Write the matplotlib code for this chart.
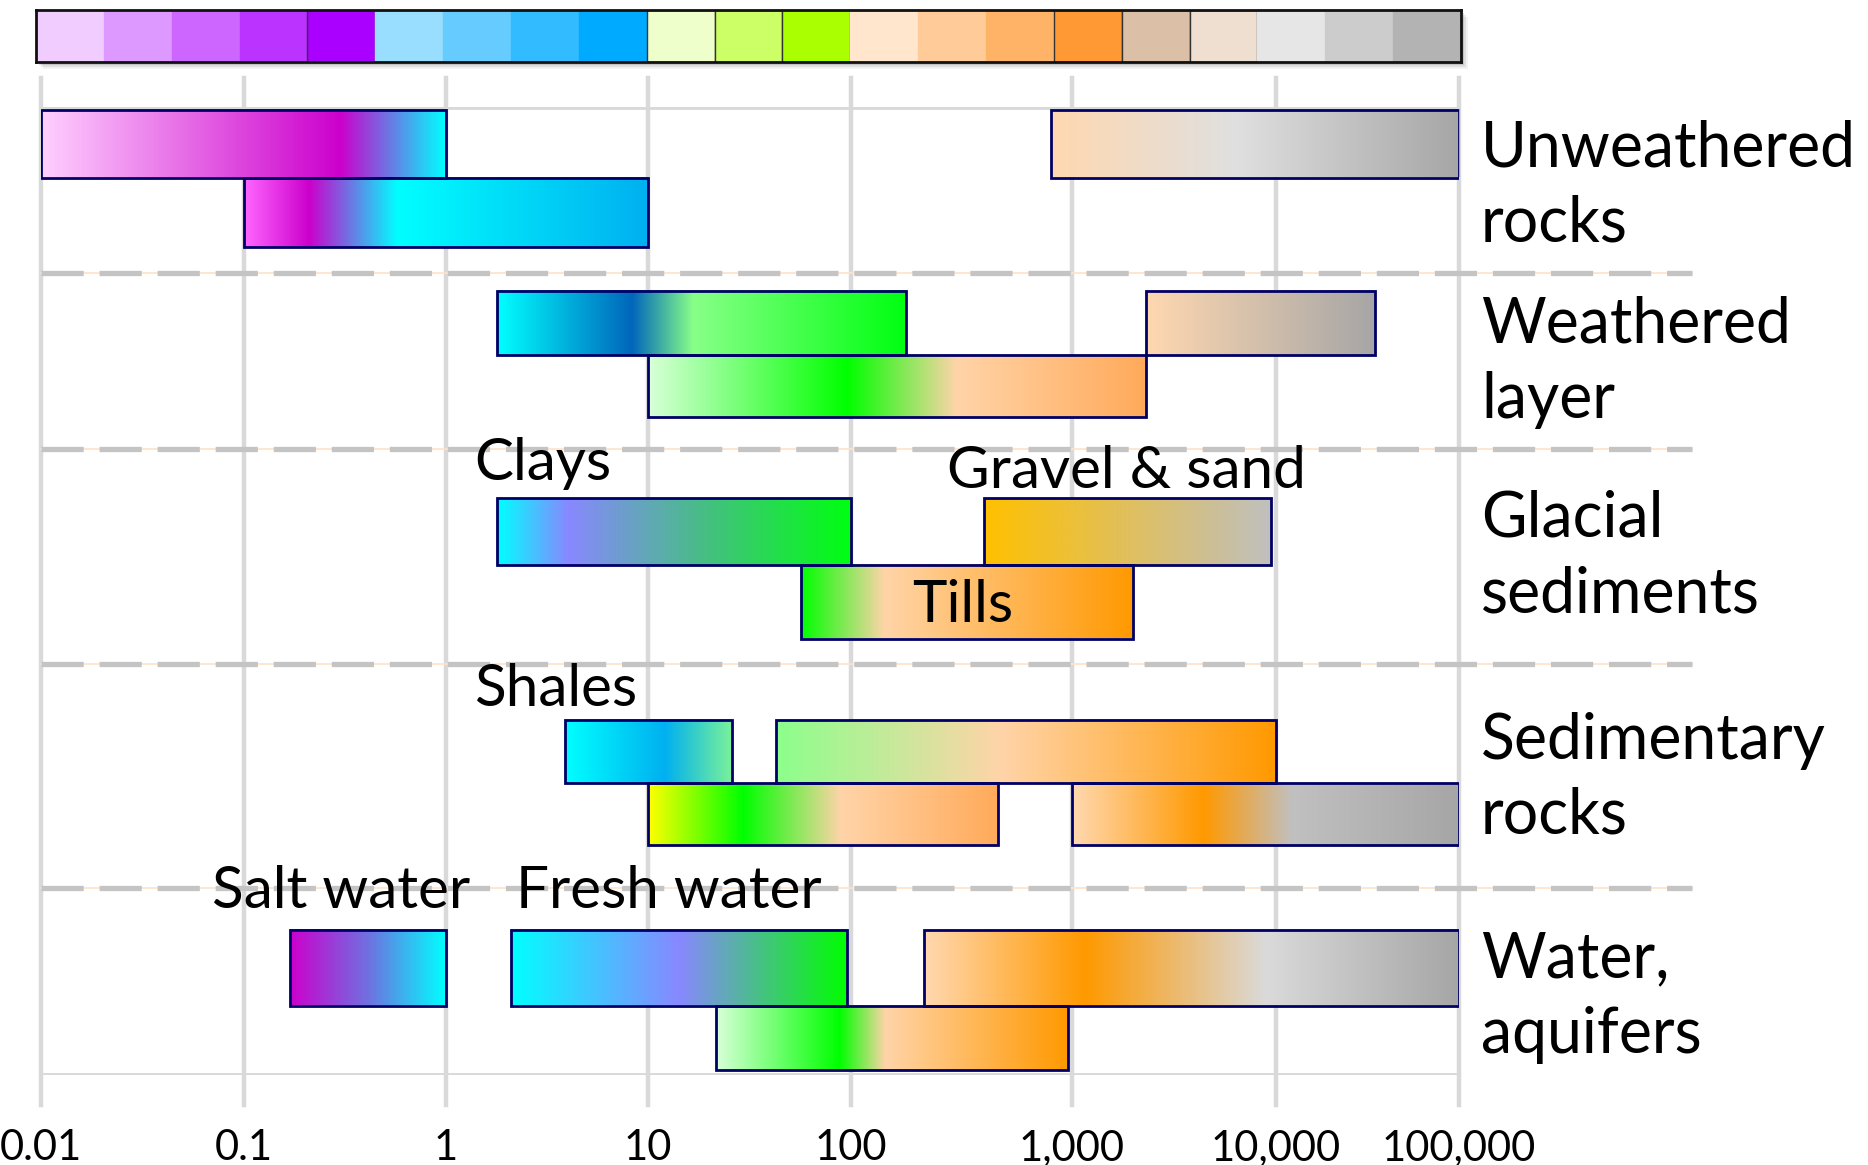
import numpy as np
import matplotlib
matplotlib.use("Agg")
import matplotlib.pyplot as plt
import matplotlib.transforms as mtransforms
from matplotlib.colors import LinearSegmentedColormap
from matplotlib.patches import Rectangle

plt.rcParams["font.family"] = ["Lato", "DejaVu Sans"]

# ---- data ----
DECADES = [0.01, 0.1, 1, 10, 100, 1000, 10000, 100000]
TICK_LABELS = ["0.01", "0.1", "1", "10", "100", "1,000", "10,000", "100,000"]

KEY_COLORS = ["#F0CCFF", "#DD99FF", "#CC66FF", "#BB33FF", "#AA00FF",
              "#99DDFF", "#66CCFF", "#33BBFF", "#00AAFF",
              "#EEFFCC", "#CCFF66", "#AAFF00",
              "#FFE6CC", "#FFCC99", "#FFB366", "#FF9933",
              "#DBBFA6", "#EEDFD0", "#E6E6E6", "#CCCCCC", "#B3B3B3"]

GROUPS = ["Unweathered\nrocks", "Weathered\nlayer", "Glacial\nsediments",
          "Sedimentary\nrocks", "Water,\naquifers"]

# one entry per bar: group, lane (0 upper / 1 lower), range
BAR_GROUP = [0, 0, 0, 1, 1, 1, 2, 2, 2, 3, 3, 3, 3, 4, 4, 4, 4]
BAR_LANE = [0, 1, 0, 0, 0, 1, 0, 0, 1, 0, 0, 1, 1, 0, 0, 0, 1]
BAR_LOW = [0.01, 0.1, 800, 1.8, 2300, 10, 1.8, 400, 57, 3.9, 43, 10, 1000,
           0.17, 2.1, 215, 21.6]
BAR_HIGH = [1, 10, 100000, 177, 34600, 2300, 100, 9500, 2000, 26, 10000, 464,
            100000, 1, 96, 100000, 960]

NOTES = ["Clays", "Gravel & sand", "Tills", "Shales", "Salt water", "Fresh water"]

# ---- styles ----
BAR_STOPS = [
    [(0, "#FFD0FF"), (0.74, "#CC00CC"), (1, "#00FFFF")],
    [(0, "#FF66FF"), (0.16, "#CC00CC"), (0.38, "#00FFFF"), (1, "#00B0F0")],
    [(0, "#FFD8B0"), (0.45, "#E0E0E0"), (1, "#A6A6A6")],
    [(0, "#00FFFF"), (0.33, "#0066BB"), (0.48, "#88FF88"), (1, "#00FF11")],
    [(0, "#FFD8B0"), (1, "#A6A6A6")],
    [(0, "#D8FFD8"), (0.4, "#00FF00"), (0.62, "#FFD4A8"), (1, "#FFAA5A")],
    [(0, "#00FFFF"), (0.2, "#8888FF"), (0.6, "#44C080"), (1, "#00FF11")],
    [(0, "#FFC000"), (0.35, "#EAC040"), (1, "#BFBFBF")],
    [(0, "#00FF00"), (0.25, "#FFD4A8"), (1, "#FF9900")],
    [(0, "#00FFFF"), (0.6, "#00B0F0"), (1, "#7AF29A")],
    [(0, "#8CFF8C"), (0.45, "#FFD4A8"), (1, "#FF9900")],
    [(0, "#FFFF00"), (0.27, "#00FF00"), (0.55, "#FFD4A8"), (1, "#FFAA5A")],
    [(0, "#FFD8B0"), (0.34, "#FF9900"), (0.57, "#C0C0C0"), (1, "#A6A6A6")],
    [(0, "#CC00CC"), (0.5, "#7070E0"), (1, "#00FFFF")],
    [(0, "#00FFFF"), (0.5, "#8888FF"), (1, "#00FF00")],
    [(0, "#FFD8B0"), (0.3, "#FF9900"), (0.64, "#DADADA"), (1, "#A6A6A6")],
    [(0, "#D8FFD8"), (0.35, "#00FF00"), (0.48, "#FFD4A8"), (1, "#FF9900")],
]
KEY_DARK_EDGE = [4, 9, 10, 11, 15, 16, 17]
NAVY = "#000066"
GRID = "#D9D9D9"

# ---- layout (pixels of the 1868x1165 picture) ----
W, H, DPI = 1868, 1165, 100
DECADE_PX = [40.5, 244, 445.5, 648, 850.6, 1072, 1276, 1459]
Y_TOP, Y_BOT = 106.5, 1074.6
GRID_TOP, GRID_BOT = 78, 1105
SEPARATORS = [272.8, 449.1, 663.6, 887.5]
LANE_EDGES = [(109.6, 177.5, 246.6), (290.7, 355, 417), (498, 564.7, 638.5),
              (719.6, 782.7, 844.6), (930.4, 1005.5, 1069.8)]
# baseline of the last line of each group name
GROUP_BASELINE = [241.8, 418, 612.3, 834, 1053]
NOTE_X = [1.38, 272, 320, 1.38, 0.0695, 2.22]
NOTE_Y = [480, 488, 621.9, 706.4, 907.8, 907.8]
NOTE_HA = ["left", "left", "center", "left", "left", "left"]

LOGS = np.log10(DECADES)


def fwd(v):
    lv = np.log10(np.maximum(np.asarray(v, float), 1e-300))
    out = np.interp(lv, LOGS, DECADE_PX)
    out = np.where(lv < LOGS[0], DECADE_PX[0] + (lv - LOGS[0]) * (DECADE_PX[1] - DECADE_PX[0]), out)
    out = np.where(lv > LOGS[-1], DECADE_PX[-1] + (lv - LOGS[-1]) * (DECADE_PX[-1] - DECADE_PX[-2]), out)
    return out


def inv(p):
    p = np.asarray(p, float)
    out = np.interp(p, DECADE_PX, LOGS)
    out = np.where(p < DECADE_PX[0], LOGS[0] + (p - DECADE_PX[0]) / (DECADE_PX[1] - DECADE_PX[0]), out)
    out = np.where(p > DECADE_PX[-1], LOGS[-1] + (p - DECADE_PX[-1]) / (DECADE_PX[-1] - DECADE_PX[-2]), out)
    return 10 ** out


fig = plt.figure(figsize=(W / DPI, H / DPI), dpi=DPI)

# colour key along the top
kx0, kx1, ky0, ky1 = 36, 1461, 10, 62
for off, a in [(7, 0.05), (5, 0.08), (3, 0.12)]:
    fig.add_artist(Rectangle(((kx0 + off) / W, 1 - (ky1 + off) / H), (kx1 - kx0) / W, (ky1 - ky0) / H,
                             transform=fig.transFigure, color="#000000", alpha=a, lw=0, zorder=-1))
kax = fig.add_axes([kx0 / W, 1 - ky1 / H, (kx1 - kx0) / W, (ky1 - ky0) / H])
edges = ["#333333" if i in KEY_DARK_EDGE else c for i, c in enumerate(KEY_COLORS)]
kax.bar(np.arange(len(KEY_COLORS)), 1, width=1, align="edge", color=KEY_COLORS,
        edgecolor=edges, linewidth=1.0)
kax.set_xlim(0, len(KEY_COLORS))
kax.set_ylim(0, 1)
kax.set_xticks([])
kax.set_yticks([])
for s in kax.spines.values():
    s.set_linewidth(2)
    s.set_color("#111111")

# main chart
ax = fig.add_axes([DECADE_PX[0] / W, 1 - Y_BOT / H, (DECADE_PX[-1] - DECADE_PX[0]) / W, (Y_BOT - Y_TOP) / H])
ax.set_xscale("function", functions=(fwd, inv))
ax.set_xlim(DECADES[0], DECADES[-1])
ax.set_ylim(Y_BOT, Y_TOP)
ax.set_autoscale_on(False)
for s in ax.spines.values():
    s.set_visible(False)
ax.set_yticks([])
ax.set_xticks(DECADES, TICK_LABELS, fontsize=30)
ax.xaxis.set_minor_locator(matplotlib.ticker.NullLocator())
ax.tick_params(axis="x", length=0, pad=39)

span = Y_BOT - Y_TOP
for d in DECADES:
    ax.axvline(d, ymin=(Y_BOT - GRID_BOT) / span, ymax=1 + (Y_TOP - GRID_TOP) / span,
               color=GRID, lw=3.2, clip_on=False, zorder=0)
ax.axhline(Y_TOP, color=GRID, lw=3.5, zorder=0)
ax.axhline(Y_BOT, color=GRID, lw=3.5, zorder=0)

blend = mtransforms.blended_transform_factory(ax.transAxes, ax.transData)
sep_end = 1 + (1692 - DECADE_PX[-1]) / (DECADE_PX[-1] - DECADE_PX[0])
for y in SEPARATORS:
    ax.plot([0, sep_end], [y, y], color="#FFE2C8", lw=1.2, transform=blend, clip_on=False, zorder=1)
    ax.plot([0, sep_end], [y, y], color="#C4C4C4", lw=3.8, dashes=(8, 3), transform=blend,
            clip_on=False, zorder=1.5)

# gradient bars
scale_tr = ax.xaxis.get_transform()
img_tr = ax.transLimits + ax.transAxes
grad = np.linspace(0, 1, 256).reshape(1, -1)
for i in range(len(BAR_LOW)):
    e = LANE_EDGES[BAR_GROUP[i]]
    y0, y1 = e[BAR_LANE[i]], e[BAR_LANE[i] + 1]
    lo, hi = BAR_LOW[i], BAR_HIGH[i]
    xs = np.ravel(scale_tr.transform(np.array([lo, hi])))
    cmap = LinearSegmentedColormap.from_list(f"bar{i}", BAR_STOPS[i])
    ax.imshow(grad, cmap=cmap, aspect="auto", interpolation="bilinear",
              extent=(xs[0], xs[1], y1, y0), transform=img_tr, zorder=2)
    ax.barh((y0 + y1) / 2, hi - lo, left=lo, height=y1 - y0, facecolor="none",
            edgecolor=NAVY, lw=2.0, zorder=3)

# notes on bars
for txt, x, y, ha in zip(NOTES, NOTE_X, NOTE_Y, NOTE_HA):
    ax.text(x, y, txt, fontsize=42, ha=ha, va="baseline", zorder=5)

# group names on the right
name_x = 1 + (1481 - DECADE_PX[-1]) / (DECADE_PX[-1] - DECADE_PX[0])
for name, y in zip(GROUPS, GROUP_BASELINE):
    ax.text(name_x, y, name, fontsize=45, ha="left", va="baseline", linespacing=1.37,
            transform=blend, clip_on=False)

fig.savefig("out.png", dpi=DPI)
